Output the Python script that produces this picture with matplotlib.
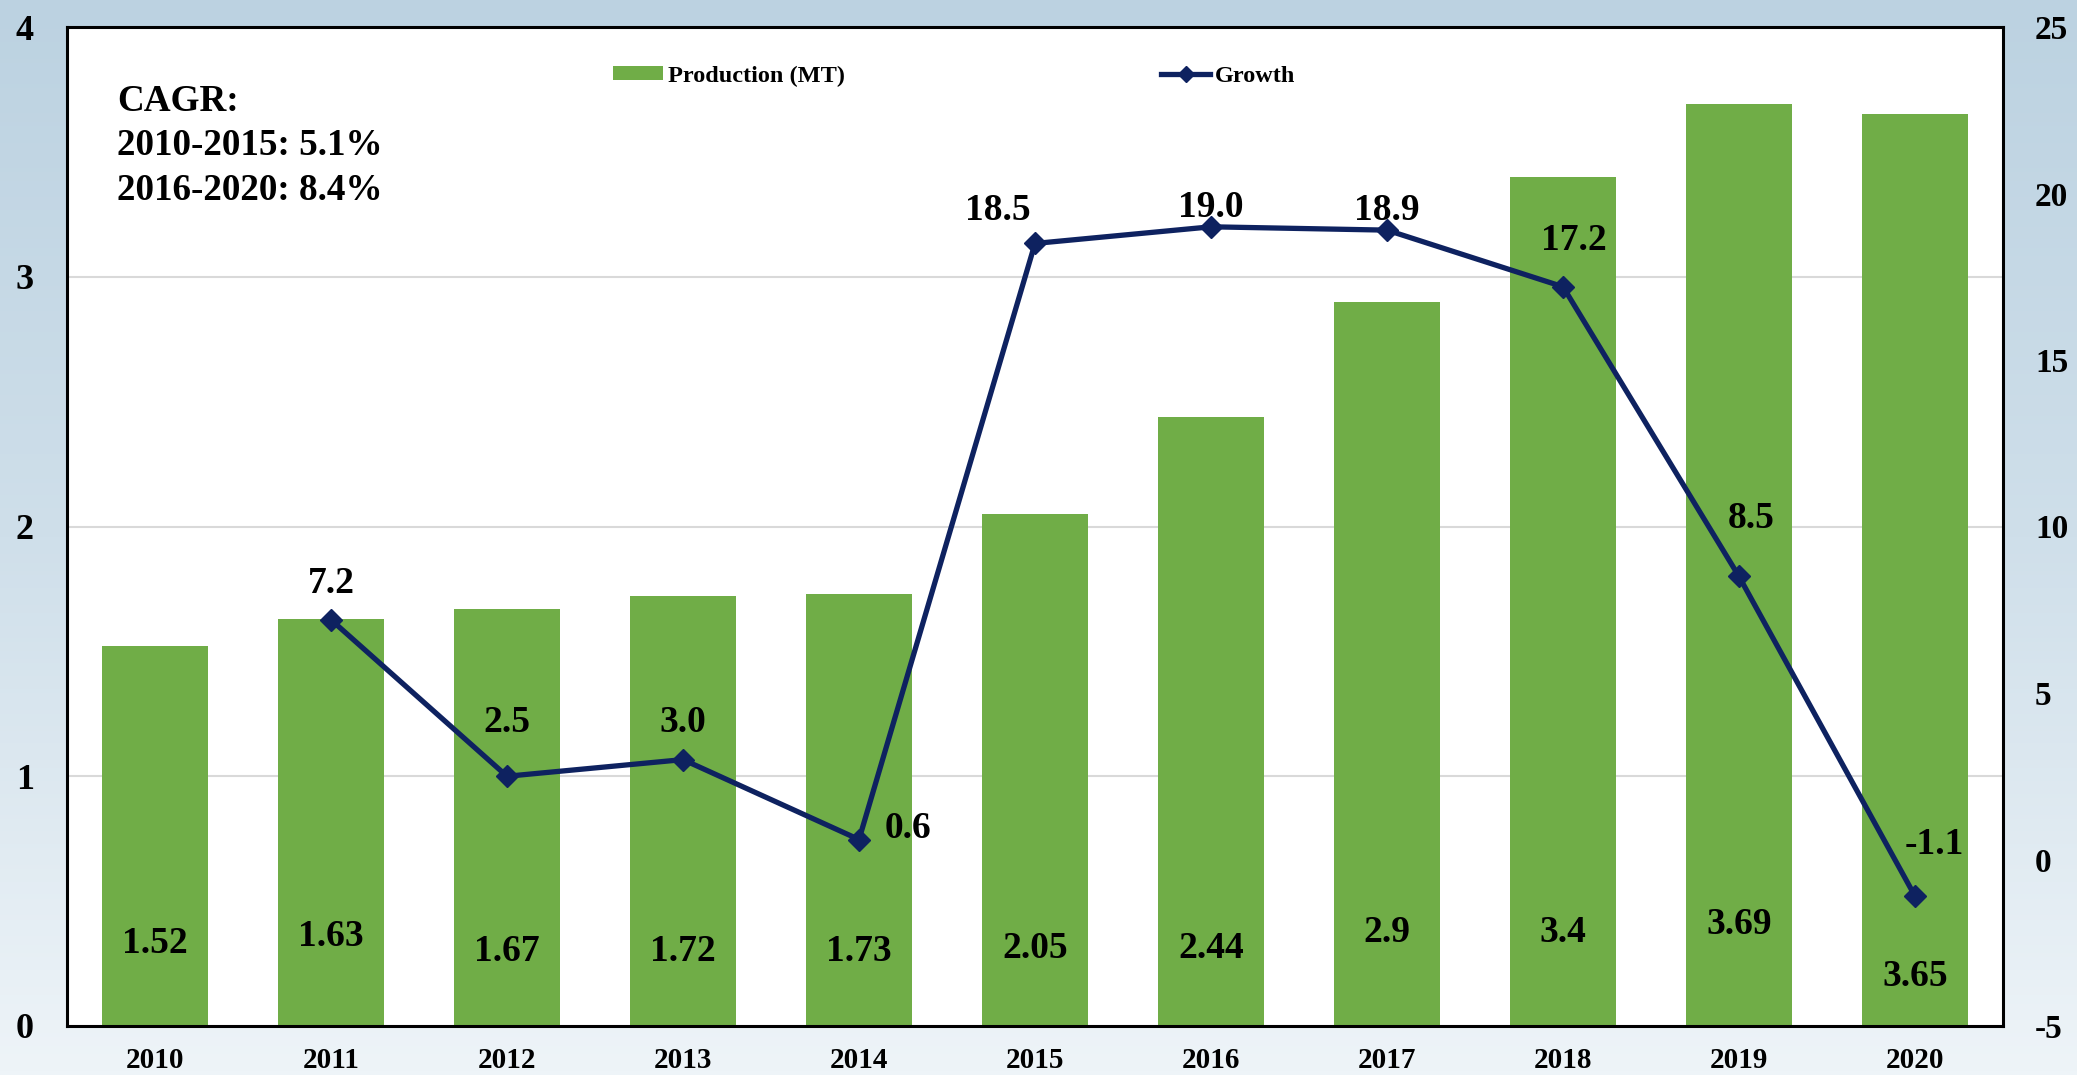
#!/usr/bin/env python3
"""
Production (MT) bars with year-on-year growth line, 2010-2020.
"""

import numpy as np
import matplotlib
matplotlib.use("Agg")
import matplotlib.pyplot as plt
from matplotlib.colors import LinearSegmentedColormap
from matplotlib.lines import Line2D
from matplotlib.patches import Patch

years = ["2010", "2011", "2012", "2013", "2014", "2015", "2016", "2017", "2018", "2019", "2020"]
production = [1.52, 1.63, 1.67, 1.72, 1.73, 2.05, 2.44, 2.9, 3.4, 3.69, 3.65]
growth_years = ["2011", "2012", "2013", "2014", "2015", "2016", "2017", "2018", "2019", "2020"]
growth = [7.2, 2.5, 3.0, 0.6, 18.5, 19.0, 18.9, 17.2, 8.5, -1.1]
left_ticks = [0, 1, 2, 3, 4]
right_ticks = [-5, 0, 5, 10, 15, 20, 25]
cagr_text = "CAGR:\n2010-2015: 5.1%\n2016-2020: 8.4%"

# label placement (hand-tuned like the original)
prod_label_y = [0.33, 0.36, 0.30, 0.30, 0.30, 0.312, 0.312, 0.376, 0.376, 0.408, 0.2]
growth_label_off = [(0, 26), (0, 39), (0, 27), (35, 8), (-27, 24), (0, 14), (0, 14), (8, 33), (9, 42), (14, 37)]

GREEN = "#70ad47"
NAVY = "#0e2260"
FONT = "Liberation Serif"

plt.rcParams["font.family"] = FONT
plt.rcParams["font.weight"] = "bold"
plt.rcParams["axes.unicode_minus"] = False

fig = plt.figure(figsize=(20.77, 10.75), dpi=100)

# light blue backdrop
bg = fig.add_axes([0, 0, 1, 1], zorder=-10)
cmap = LinearSegmentedColormap.from_list("bg", ["#bcd2e1", "#cfdfea", "#eef4f8"])
grad = np.linspace(0, 1, 256).reshape(-1, 1)
bg.imshow(grad, aspect="auto", cmap=cmap, extent=[0, 1, 0, 1])
bg.axis("off")

ax = fig.add_axes([67 / 2077, 49 / 1075, 1936 / 2077, 999 / 1075])
ax.set_facecolor("white")
x = np.arange(len(years))
ax.bar(x, production, width=0.6, color=GREEN, zorder=2)
ax.set_xlim(-0.5, len(years) - 0.5)
ax.set_ylim(0, 4)
ax.set_yticks(left_ticks)
ax.set_xticks(x)
ax.set_xticklabels(years)
ax.grid(axis="y", color="#d9d9d9", linewidth=1.5, zorder=0)
ax.set_axisbelow(True)
ax.tick_params(axis="y", length=0, pad=24, labelsize=26)
ax.tick_params(axis="x", length=0, pad=15, labelsize=21)
for s in ax.spines.values():
  s.set_linewidth(2.2)
  s.set_color("black")

for xi, v, ly in zip(x, production, prod_label_y):
  ax.text(xi, ly, f"{v:g}", ha="center", va="center", fontsize=27, fontweight="bold", zorder=5)

ax2 = ax.twinx()
gx = [years.index(y) for y in growth_years]
ax2.plot(gx, growth, color=NAVY, linewidth=3.8, marker="D", markersize=11, zorder=4)
ax2.set_ylim(-5, 25)
ax2.set_yticks(right_ticks)
ax2.tick_params(axis="y", length=0, pad=23, labelsize=24)
for s in ax2.spines.values():
  s.set_visible(False)

for xi, v, (dx, dy) in zip(gx, growth, growth_label_off):
  ax2.annotate(f"{v:.1f}", (xi, v), xytext=(dx, dy), textcoords="offset points",
               ha="center", va="center", fontsize=27, fontweight="bold", zorder=6)

ax.text(0.026, 0.943, cagr_text, transform=ax.transAxes, ha="left", va="top",
        fontsize=26.7, fontweight="bold", linespacing=1.35)

handles = [
  Patch(facecolor=GREEN, edgecolor="none", label="Production (MT)"),
  Line2D([0], [0], color=NAVY, linewidth=3.8, marker="D", markersize=8, label="Growth"),
]
leg = ax2.legend(handles=handles, loc="center left", bbox_to_anchor=(613 / 2077, 1 - 76 / 1075),
                 bbox_transform=fig.transFigure, ncol=2, frameon=False, fontsize=17.5,
                 borderpad=0, borderaxespad=0, handlelength=2.05, handleheight=0.55,
                 handletextpad=0.2, columnspacing=13.0)

plt.savefig("out.png", dpi=100)
